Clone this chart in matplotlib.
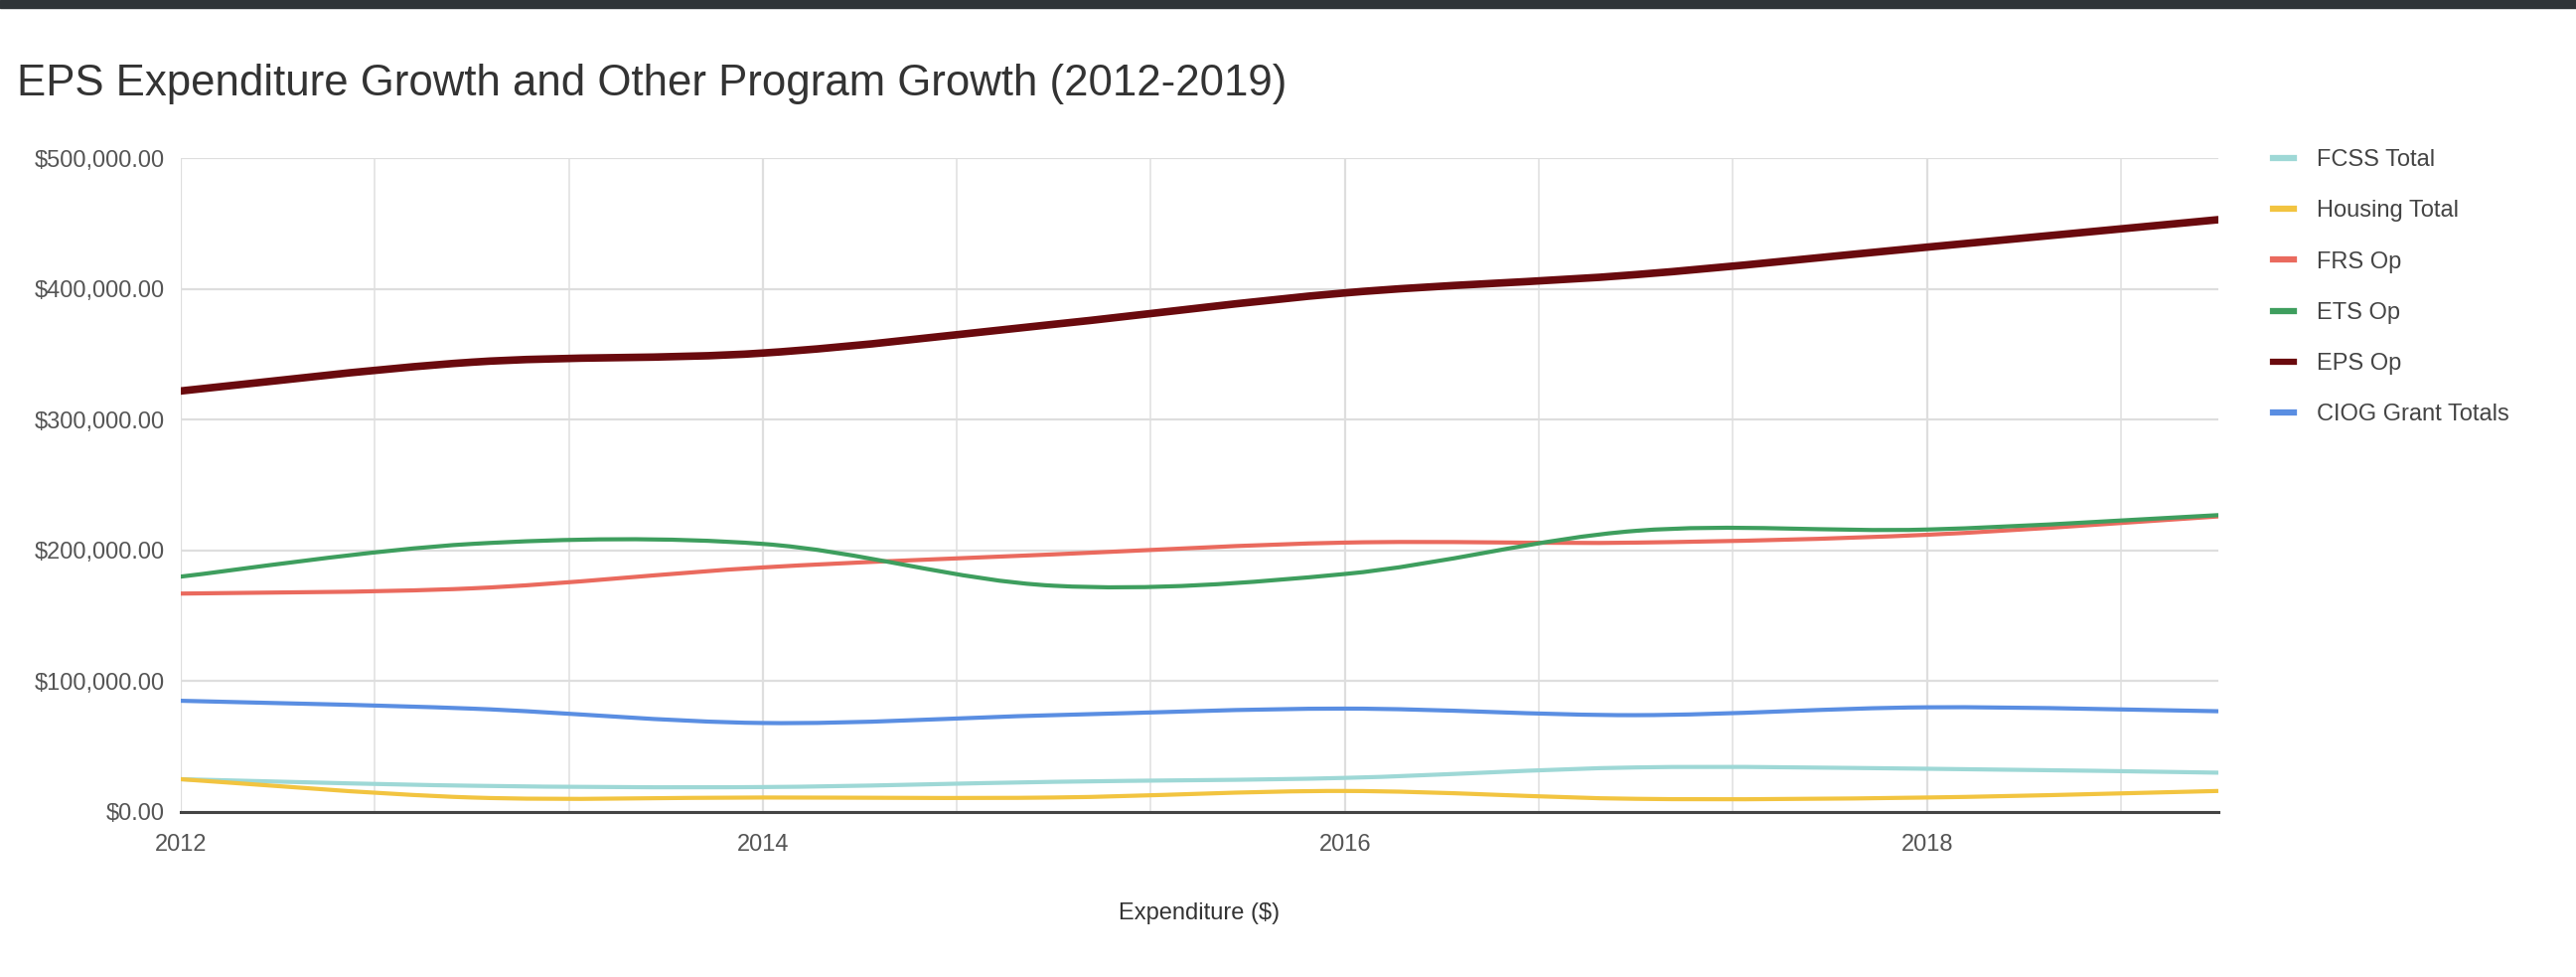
import numpy as np
import matplotlib.pyplot as plt
from matplotlib.path import Path
from matplotlib.patches import PathPatch, Rectangle
from matplotlib.lines import Line2D
from matplotlib.ticker import FuncFormatter, MultipleLocator

plt.rcParams['font.family'] = ['Liberation Sans', 'DejaVu Sans']

years = [2012, 2013, 2014, 2015, 2016, 2017, 2018, 2019]
fcss_total = [25000, 20000, 19000, 23000, 26000, 34000, 33000, 30000]
housing_total = [25000, 11000, 11000, 11000, 16000, 10000, 11000, 16000]
frs_op = [167000, 171000, 187000, 197000, 206000, 206000, 212000, 226000]
ets_op = [180000, 205000, 205000, 173000, 182000, 215000, 216000, 227000]
eps_op = [322000, 344000, 351000, 373000, 397000, 411000, 432000, 453000]
ciog_totals = [85000, 79000, 68000, 74000, 79000, 74000, 80000, 77000]

series = [
    ("FCSS Total", fcss_total, '#9ed8d6', 3.0),
    ("Housing Total", housing_total, '#f2c440', 3.0),
    ("FRS Op", frs_op, '#ea6a5e', 3.0),
    ("ETS Op", ets_op, '#3e9e5e', 3.0),
    ("EPS Op", eps_op, '#6a0a0e', 5.5),
    ("CIOG Grant Totals", ciog_totals, '#5a8ee2', 3.0),
]


def smooth_path(xs, ys):
    # catmull-rom -> cubic bezier, so the curve goes through every point
    p = np.column_stack([xs, ys]).astype(float)
    ext = np.vstack([p[0], p, p[-1]])
    verts = [tuple(p[0])]
    codes = [Path.MOVETO]
    for i in range(len(p) - 1):
        p0, p1, p2, p3 = ext[i], ext[i + 1], ext[i + 2], ext[i + 3]
        c1 = p1 + (p2 - p0) / 6.0
        c2 = p2 - (p3 - p1) / 6.0
        verts += [tuple(c1), tuple(c2), tuple(p2)]
        codes += [Path.CURVE4] * 3
    return Path(verts, codes)


fig = plt.figure(figsize=(25.93, 9.83), dpi=100)
fig.patches.append(Rectangle((0, 0.992), 1, 0.008, transform=fig.transFigure,
                             color='#2f3438', zorder=0))
ax = fig.add_axes([0.0702, 0.169, 0.7908, 0.669])

for name, vals, color, lw in series:
    ax.add_patch(PathPatch(smooth_path(years, vals), fill=False, edgecolor=color,
                           linewidth=lw, capstyle='round', joinstyle='round', zorder=3))

ax.set_xlim(2012, 2019)
ax.set_ylim(0, 500000)
ax.xaxis.set_major_locator(MultipleLocator(2))
ax.xaxis.set_minor_locator(MultipleLocator(2 / 3))
ax.yaxis.set_major_locator(MultipleLocator(100000))
ax.yaxis.set_major_formatter(FuncFormatter(lambda v, p: "${:,.2f}".format(v)))
ax.grid(True, which='major', color='#dedede', linewidth=1.6)
ax.grid(True, which='minor', axis='x', color='#e6e6e6', linewidth=1.4)
ax.set_axisbelow(True)
for s in ['top', 'right', 'left']:
    ax.spines[s].set_visible(False)
ax.spines['bottom'].set_color('#444444')
ax.spines['bottom'].set_linewidth(2.2)
ax.tick_params(which='both', length=0)
ax.tick_params(axis='y', labelsize=17, colors='#555555', pad=12)
ax.tick_params(axis='x', labelsize=17, colors='#555555', pad=16)

ax.set_xlabel("Expenditure ($)", fontsize=17, color='#333333', labelpad=34)
fig.text(0.0065, 0.914, "EPS Expenditure Growth and Other Program Growth (2012-2019)",
         fontsize=31.5, color='#333333', ha='left', va='center')

handles = [Line2D([0], [0], color=c, linewidth=4.5) for _, _, c, _ in series]
labels = [n for n, _, _, _ in series]
fig.legend(handles, labels, loc='upper left', bbox_to_anchor=(0.874, 0.869),
           frameon=False, fontsize=17, handlelength=0.9, handletextpad=1.0,
           labelspacing=1.24, labelcolor='#444444')

fig.savefig('out.png', dpi=100, facecolor='white')
